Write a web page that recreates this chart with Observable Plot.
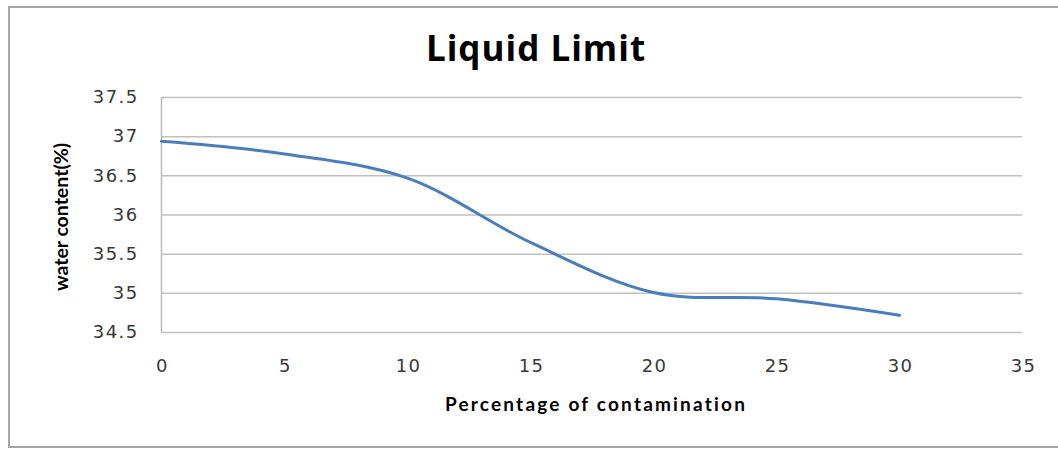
<!DOCTYPE html>
<html>
<head>
<meta charset="utf-8">
<script src="https://cdn.jsdelivr.net/npm/d3@7"></script>
<script src="https://cdn.jsdelivr.net/npm/@observablehq/plot@0.6"></script>
<style>
  html, body { margin: 0; padding: 0; background: #fff; overflow: hidden; width: 1058px; height: 450px; }
  #frame { position: absolute; left: 8px; top: 6px; width: 1070px; height: 442px; box-sizing: border-box; border: 2px solid #a6a6a6; }
  #title { position: absolute; left: 0; top: 28px; width: 1072px; text-align: center; font: bold 35px "Open Sans", sans-serif; letter-spacing: 1px; line-height: 40px; color: #000; }
  #chart { position: absolute; left: 0; top: 85px; }
</style>
</head>
<body>
<div id="frame"></div>
<div id="title">Liquid Limit</div>
<div id="chart"></div>
<script>
const contamination = [0, 5, 10, 15, 20, 25, 30];
const waterContent = [36.94, 36.78, 36.47, 35.65, 35.01, 34.93, 34.72];
const yTicks = [34.5, 35, 35.5, 36, 36.5, 37, 37.5];
const xTicks = [0, 5, 10, 15, 20, 25, 30, 35];
const yLabel = "water content(%)";
const xLabel = "Percentage of contamination";

const data = contamination.map((x, i) => ({x, y: waterContent[i]}));

const chart = Plot.plot({
  width: 1058,
  height: 360,
  marginLeft: 161,
  marginRight: 36,
  marginTop: 12,
  marginBottom: 113,
  x: {domain: [0, 35]},
  y: {domain: [34.5, 37.5]},
  style: {fontFamily: "DejaVu Sans", fontSize: "18px", color: "#383838", background: "transparent"},
  marks: [
    Plot.ruleY(yTicks, {stroke: "#c0c0c0", strokeWidth: 1.5}),
    Plot.ruleX([0], {stroke: "#b8b8b8", strokeWidth: 1.5}),
    Plot.axisY({ticks: yTicks, tickSize: 0, tickPadding: 23, label: null, fontSize: 18, tickFormat: d => String(d)}),
    Plot.axisX({ticks: xTicks, tickSize: 0, tickPadding: 27, label: null, fontSize: 18, dx: 1}),
    Plot.line(data, {x: "x", y: "y", curve: "catmull-rom", stroke: "#4a7ebb", strokeWidth: 3}),
    Plot.text([yLabel], {frameAnchor: "left", textAnchor: "middle", dx: -100, dy: 2, rotate: -90, fontWeight: "bold", fontFamily: "Lato", fontSize: 19.5, fill: "#000"}),
    Plot.text([xLabel], {frameAnchor: "bottom", textAnchor: "middle", dx: 4, dy: 78, fontWeight: "bold", fontFamily: "Lato", fontSize: 19, fill: "#000"})
  ]
});
d3.select(chart).selectAll("g[aria-label='y-axis tick label'] text, g[aria-label='x-axis tick label'] text")
  .style("letter-spacing", "1.4px");
d3.select(chart).selectAll("text")
  .filter(function() { return this.textContent === xLabel; })
  .style("letter-spacing", "2.2px");
document.getElementById("chart").appendChild(chart);
</script>
</body>
</html>
